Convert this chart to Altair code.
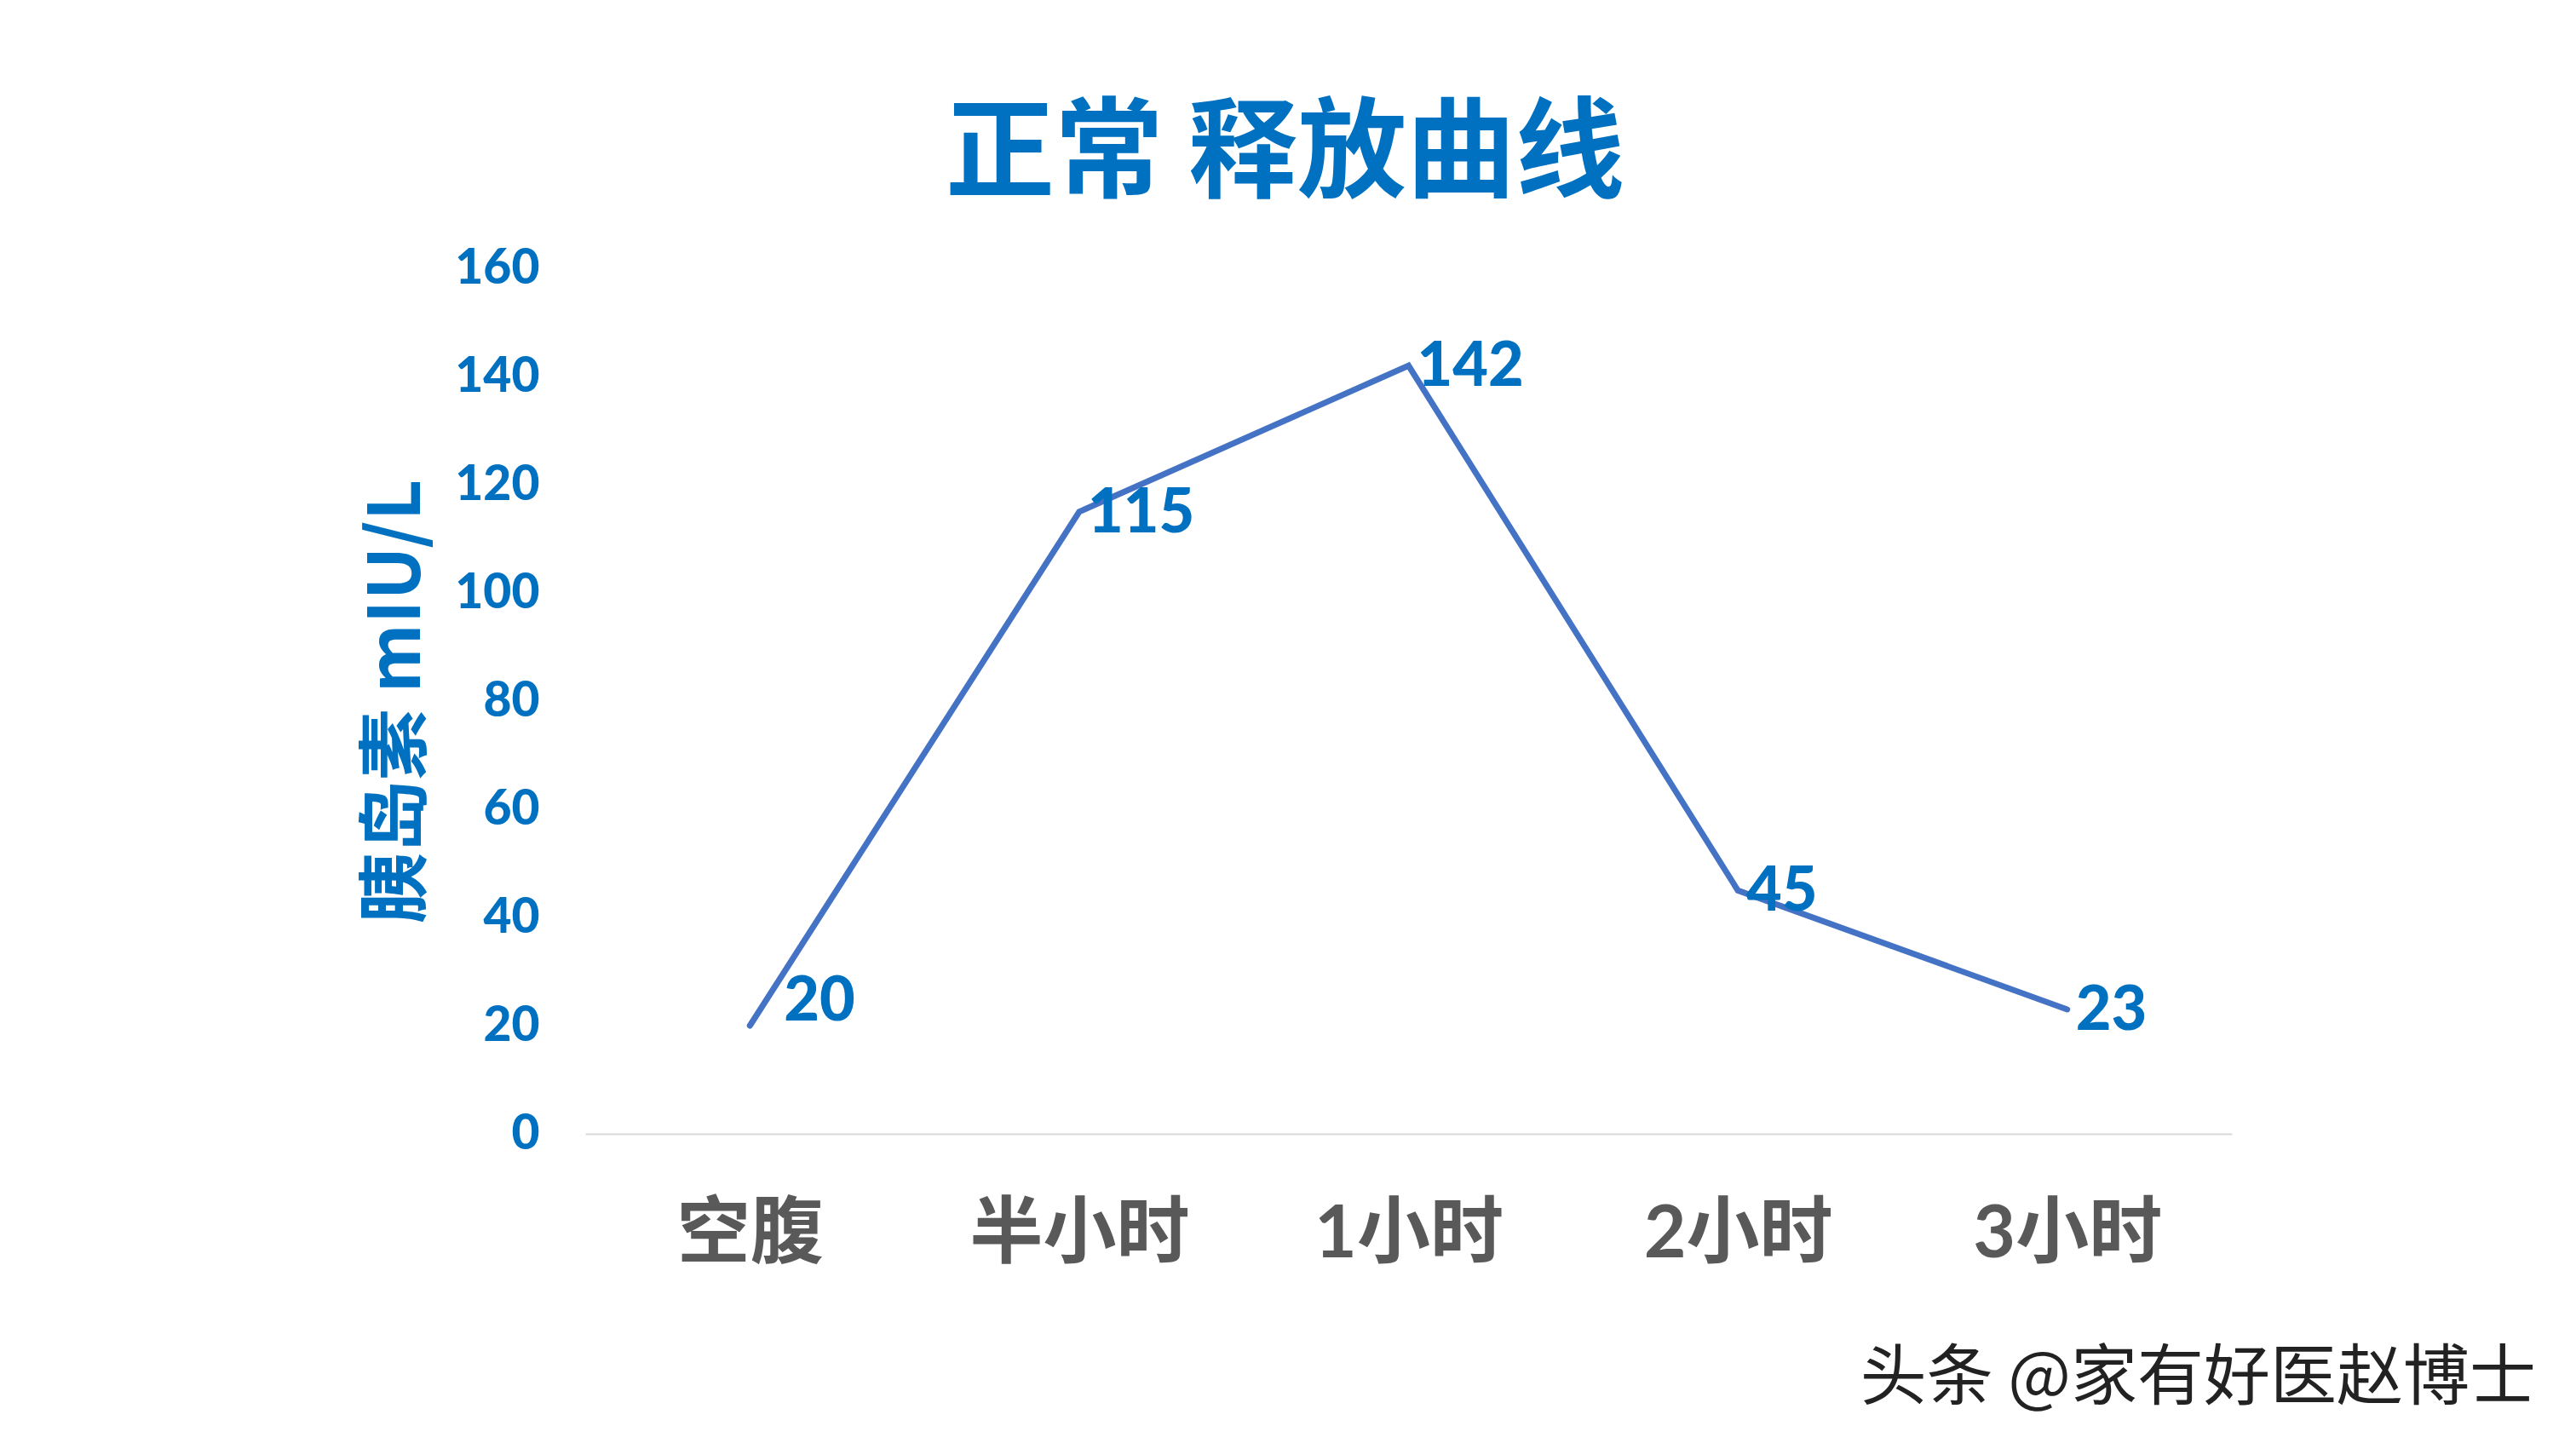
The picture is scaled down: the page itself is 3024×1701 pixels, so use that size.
import altair as alt
import pandas as pd

categories = ["空腹", "半小时", "1小时", "2小时", "3小时"]
values = [20, 115, 142, 45, 23]
y_ticks = [0, 20, 40, 60, 80, 100, 120, 140, 160]
title_text = "正常 释放曲线"
y_title = "胰岛素 mIU/L"
watermark = "头条 @家有好医赵博士"

df = pd.DataFrame({"time": categories, "insulin": values})

BLUE = "#0070C0"
LINE = "#4472C4"
GRAY = "#595959"
FONT = "Lato, Noto Sans CJK SC, sans-serif"
CJK = "Noto Sans CJK SC, sans-serif"

W, H = 1933, 1016

x = alt.X(
    "time:N",
    sort=categories,
    scale=alt.Scale(type="point", padding=0.5),
    axis=alt.Axis(
        title=None,
        labelFont=FONT,
        labelFontSize=86,
        labelFontWeight="bold",
        labelColor=GRAY,
        labelPadding=76,
        labelAngle=0,
        labelLimit=0,
        ticks=False,
        domain=True,
        domainColor="#D9D9D9",
        domainWidth=2,
        grid=False,
    ),
)
y = alt.Y(
    "insulin:Q",
    scale=alt.Scale(domain=[0, 160], nice=False),
    axis=alt.Axis(
        values=y_ticks,
        title=y_title,
        titleFont=CJK,
        titleFontSize=84,
        titleFontWeight="bold",
        titleColor=BLUE,
        titleAngle=-90,
        titleAlign="center",
        titleBaseline="middle",
        titleX=-220,
        titleY=H / 2,
        labelFont=FONT,
        labelFontSize=57,
        labelFontWeight=900,
        labelColor=BLUE,
        labelPadding=54,
        ticks=False,
        domain=False,
        grid=False,
    ),
)

base = alt.Chart(df)

line = base.mark_line(
    color=LINE, strokeWidth=7, strokeCap="round"
).encode(x=x, y=y)

text_style = dict(align="left", baseline="middle", font=FONT, fontSize=72,
                  fontWeight=900, color=BLUE)

labels_first = base.transform_filter(
    alt.datum.time == categories[0]
).mark_text(dx=40, dy=-28, **text_style).encode(x=x, y=y, text="insulin:Q")

labels_rest = base.transform_filter(
    alt.datum.time != categories[0]
).mark_text(dx=10, dy=2, **text_style).encode(x=x, y=y, text="insulin:Q")

wm = alt.Chart(pd.DataFrame({"t": [watermark]})).mark_text(
    align="right", baseline="middle", font=CJK, fontSize=78,
    color="#222222",
).encode(x=alt.value(2290), y=alt.value(1305), text="t:N")

chart = alt.layer(line, labels_first, labels_rest, wm).properties(
    width=W,
    height=H,
    title=alt.TitleParams(
        text=title_text,
        font=CJK,
        fontSize=128,
        fontWeight="bold",
        color=BLUE,
        anchor="middle",
        frame="group",
        dx=-145,
        offset=37,
    ),
    padding={"left": 679, "top": 307, "right": 396, "bottom": 362},
    autosize=alt.AutoSizeParams(type="none"),
).configure(background="white").configure_view(strokeWidth=0, stroke=None)

chart.save("out.html", embed_options={"renderer": "svg", "actions": False})
